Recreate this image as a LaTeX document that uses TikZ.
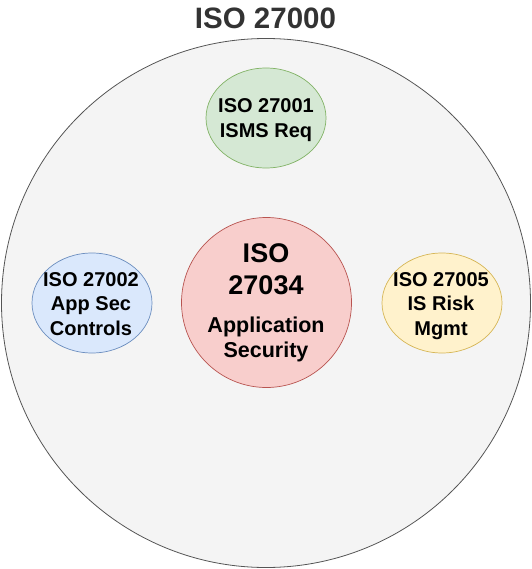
\documentclass[tikz,border=0pt]{standalone}
\usepackage{fontspec}
\setmainfont{Liberation Sans}
\usetikzlibrary{shapes.geometric}
\definecolor{bigfill}{HTML}{F4F4F4}
\definecolor{bigline}{HTML}{555555}
\definecolor{gfill}{HTML}{D5E8D4}\definecolor{gline}{HTML}{82B366}
\definecolor{bfill}{HTML}{DAE8FC}\definecolor{bline}{HTML}{6C8EBF}
\definecolor{rfill}{HTML}{F8CECC}\definecolor{rline}{HTML}{B85450}
\definecolor{yfill}{HTML}{FFF2CC}\definecolor{yline}{HTML}{D6B656}
\definecolor{titlec}{HTML}{333333}
\begin{document}
\begin{tikzpicture}[x=1pt,y=-1pt,
  oval/.style={ellipse, minimum width=120pt, minimum height=100pt, inner sep=0pt, line width=0.7pt},
  lbl/.style={anchor=base, inner sep=0pt, font=\fontsize{20}{24}\selectfont\bfseries},
  midlbl/.style={anchor=base, inner sep=0pt, font=\fontsize{21.5}{25}\selectfont\bfseries},
  biglbl/.style={anchor=base, inner sep=0pt, font=\fontsize{27}{31}\selectfont\bfseries}]
\useasboundingbox (0,0) rectangle (531,569);
\node[circle, draw=bigline, fill=bigfill, minimum size=529pt, inner sep=0pt, line width=0.8pt] (outer) at (266,303) {};
\node[anchor=base, inner sep=0pt, text=titlec, font=\fontsize{29.5}{34}\selectfont\bfseries] (title) at (265.5,28.5) {ISO 27000};
% top green
\node[oval, draw=gline, fill=gfill] (g) at (266,118) {};
\node[lbl] (g1) at (266,113) {ISO 27001};
\node[lbl] (g2) at (266,138) {ISMS Req};
% left blue
\node[oval, draw=bline, fill=bfill] (b) at (92,303) {};
\node[lbl] (b1) at (91,286) {ISO 27002};
\node[lbl] (b2) at (91,310) {App Sec};
\node[lbl] (b3) at (91,335) {Controls};
% right yellow
\node[oval, draw=yline, fill=yfill] (y) at (442,303) {};
\node[lbl] (y1) at (441,286) {ISO 27005};
\node[lbl] (y2) at (441,310) {IS Risk};
\node[lbl] (y3) at (441,335) {Mgmt};
% center red
\node[circle, draw=rline, fill=rfill, minimum size=170pt, inner sep=0pt, line width=0.7pt] (r) at (266.5,302.5) {};
\node[biglbl] (r1) at (266,262) {ISO};
\node[biglbl] (r2) at (266,294) {27034};
\node[midlbl] (r3) at (266,332.5) {Application};
\node[midlbl] (r4) at (266,357.5) {Security};
\end{tikzpicture}
\end{document}
